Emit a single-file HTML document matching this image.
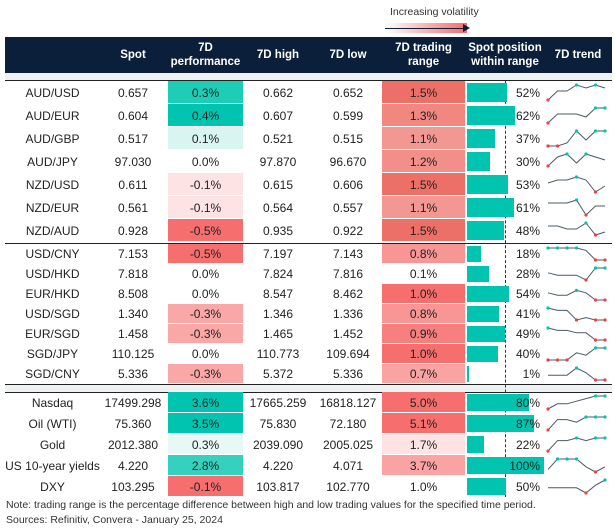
<!DOCTYPE html><html><head><meta charset="utf-8"><style>
body{margin:0;width:615px;height:532px;background:#fff;font-family:"Liberation Sans",sans-serif;position:relative;overflow:hidden}
.a{position:absolute}
.c{position:absolute;text-align:center;font-size:12px;color:#222}
.h{position:absolute;color:#fff;font-weight:bold;font-size:11.5px;text-align:center;line-height:14px}
</style></head><body>
<div class="a" style="left:390px;top:6px;font-size:10.5px;color:#333">Increasing volatility</div>
<div class="a" style="left:385px;top:23px;width:82px;height:10px;background:linear-gradient(90deg,#fff,#f46a6a)"></div>
<div class="a" style="left:385px;top:28px;width:80px;height:1px;background:#0b1f3a"></div>
<div class="a" style="left:463px;top:24px;border-left:7px solid #0b1f3a;border-top:4px solid transparent;border-bottom:4px solid transparent"></div>
<div class="a" style="left:5px;top:37px;width:607px;height:36px;background:#0b1f3a"></div>
<div class="h" style="left:100px;width:66px;top:48px">Spot</div>
<div class="h" style="left:168px;width:75px;top:41px">7D<br>performance</div>
<div class="h" style="left:243px;width:70px;top:48px">7D high</div>
<div class="h" style="left:313px;width:70px;top:48px">7D low</div>
<div class="h" style="left:382px;width:83px;top:41px">7D trading<br>range</div>
<div class="h" style="left:465px;width:80px;top:41px">Spot position<br>within range</div>
<div class="h" style="left:545px;width:66px;top:48px">7D trend</div>
<div class="a" style="left:5px;top:73px;width:607px;height:7px;background:#eef2f3"></div>
<div class="a" style="left:5px;top:80px;width:607px;height:1px;background:#222"></div>
<div class="a" style="left:5px;top:243px;width:607px;height:1px;background:#222"></div>
<div class="a" style="left:5px;top:384px;width:607px;height:7px;background:#eef2f3;border-top:1px solid #222;border-bottom:1px solid #222"></div>
<div class="a" style="left:505px;top:81px;height:416px;border-left:1px dashed #333"></div>
<div id="t"></div>
<div class="a" style="left:6px;top:499px;font-size:10.5px;color:#333">Note: trading range is the percentage difference between high and low trading values for the specified time period.</div>
<div class="a" style="left:6px;top:514px;font-size:10.5px;color:#333">Sources: Refinitiv, Convera - January 25, 2024</div>
<script>
var R=[
["AUD/USD","0.657","0.3%","0.662","0.652","1.5%",52,"#1dcdb5","#ec7068",[1,4,4,6,5,6,5]],
["AUD/EUR","0.604","0.4%","0.607","0.599","1.3%",62,"#00c4b0","#f18781",[1,4,4,4,3,6,6]],
["AUD/GBP","0.517","0.1%","0.521","0.515","1.1%",37,"#d8f5f1","#f39792",[1,1,2,6,3,6,6]],
["AUD/JPY","97.030","0.0%","97.870","96.670","1.2%",30,"#fff","#f28f8a",[2,5,6,3,6,5,4]],
["NZD/USD","0.611","-0.1%","0.615","0.606","1.5%",53,"#fde3e3","#ec7068",[4,5,5,6,5,1,3]],
["NZD/EUR","0.561","-0.1%","0.564","0.557","1.1%",61,"#fde3e3","#f39792",[5,5,5,6,1,4,4]],
["NZD/AUD","0.928","-0.5%","0.935","0.922","1.5%",48,"#f66e6e","#ec7068",[5,5,4,4,6,2,3]],
["USD/CNY","7.153","-0.5%","7.197","7.143","0.8%",18,"#f66e6e","#f89696",[6,6,6,6,5,1,1]],
["USD/HKD","7.818","0.0%","7.824","7.816","0.1%",28,"#fff","#fff",[4,3,3,3,1,6,6]],
["EUR/HKD","8.508","0.0%","8.547","8.462","1.0%",54,"#fff","#f66e6e",[4,3,3,5,4,1,1]],
["USD/SGD","1.340","-0.3%","1.346","1.336","0.8%",41,"#f9a7a7","#f89696",[6,5,5,1,2,1,1]],
["EUR/SGD","1.458","-0.3%","1.465","1.452","0.9%",49,"#f9a7a7","#f77f7f",[6,5,5,4,4,1,1]],
["SGD/JPY","110.125","0.0%","110.773","109.694","1.0%",40,"#fff","#f66e6e",[1,1,1,4,3,6,6]],
["SGD/CNY","5.336","-0.3%","5.372","5.336","0.7%",1,"#f9a7a7","#f9a3a3",[3,3,3,6,4,1,1]],
["Nasdaq","17499.298","3.6%","17665.259","16818.127","5.0%",80,"#00c4b0","#f66e6e",[1,3,3,4,5,6,6]],
["Oil (WTI)","75.360","3.5%","75.830","72.180","5.1%",87,"#00c4b0","#f66e6e",[1,5,5,4,6,6,6]],
["Gold","2012.380","0.3%","2039.090","2005.025","1.7%",22,"#e8f8f6","#fde3e3",[1,5,5,6,5,6,6]],
["US 10-year yields","4.220","2.8%","4.220","4.071","3.7%",100,"#33d1be","#f9a3a3",[2,6,6,6,3,1,3]],
["DXY","103.295","-0.1%","103.817","102.770","1.0%",50,"#f66e6e","#fff",[3,3,3,3,1,4,6]]];
var h="",y=81;
R.forEach(function(r,i){
 var rh=i<7?23:i<14?20:21; if(i==14)y=392; if(i==7)y=244;
 var ty=y+(rh-14)/2;
 h+='<div class="c" style="left:5px;width:95px;top:'+ty+'px">'+r[0]+'</div>';
 h+='<div class="c" style="left:100px;width:66px;top:'+ty+'px">'+r[1]+'</div>';
 h+='<div class="a" style="left:168px;width:75px;top:'+y+'px;height:'+(rh-1)+'px;background:'+r[7]+'"></div>';
 h+='<div class="c" style="left:168px;width:75px;top:'+ty+'px">'+r[2]+'</div>';
 h+='<div class="c" style="left:243px;width:70px;top:'+ty+'px">'+r[3]+'</div>';
 h+='<div class="c" style="left:313px;width:70px;top:'+ty+'px">'+r[4]+'</div>';
 h+='<div class="a" style="left:382px;width:83px;top:'+y+'px;height:'+(rh-1)+'px;background:'+r[8]+'"></div>';
 h+='<div class="c" style="left:382px;width:83px;top:'+ty+'px">'+r[5]+'</div>';
 h+='<div class="a" style="left:467px;width:'+Math.max(1.5,r[6]*0.77)+'px;top:'+(y+2)+'px;height:'+(rh-4)+'px;background:#00c4b0"></div>';
 h+='<div class="c" style="left:505px;width:35px;text-align:right;top:'+ty+'px">'+r[6]+'%</div>';
 var d=r[9],pts=[],mx=Math.max.apply(0,d),mn=Math.min.apply(0,d);
 d.forEach(function(v,k){pts.push((548+k*9.5)+','+(y+rh-4-(v-1)/5*(rh-8)))});
 var s='<svg class="a" style="left:0;top:0" width="615" height="532"><polyline points="'+pts.join(' ')+'" fill="none" stroke="#4a5a6a" stroke-width="1"/>';
 d.forEach(function(v,k){var p=pts[k].split(',');if(v==mx)s+='<circle cx="'+p[0]+'" cy="'+p[1]+'" r="1.6" fill="#00c4b0"/>';else if(v==mn)s+='<circle cx="'+p[0]+'" cy="'+p[1]+'" r="1.6" fill="#e8433f"/>';});
 h+=s+'</svg>';
 y+=rh;
});
document.getElementById('t').innerHTML=h;
</script></body></html>
